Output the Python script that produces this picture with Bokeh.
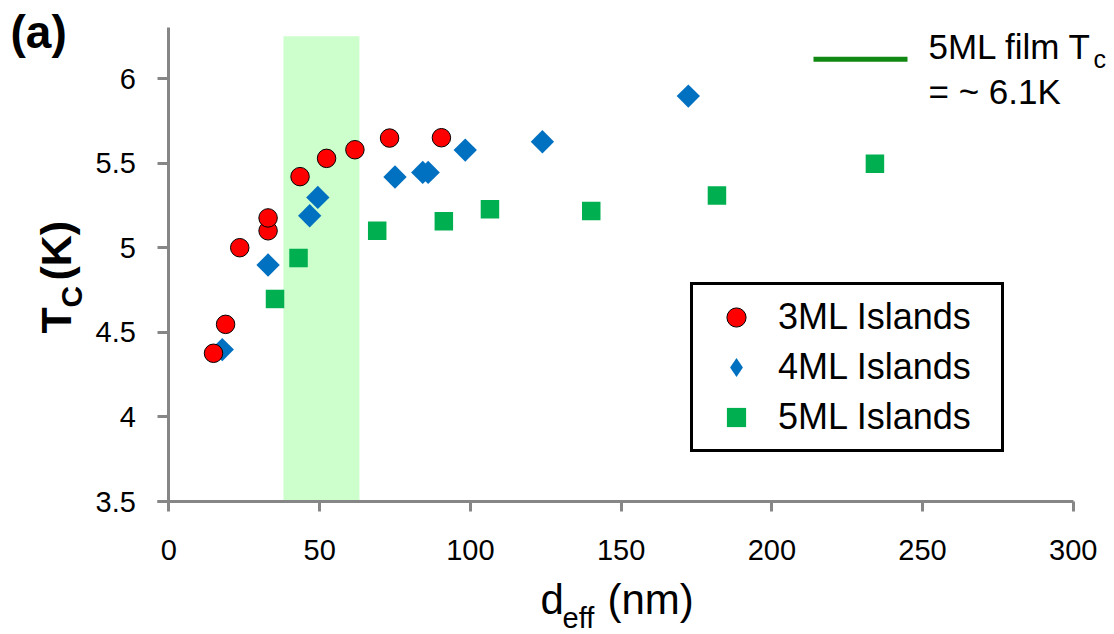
import numpy as np
from bokeh.plotting import figure
from bokeh.models import (Range1d, FixedTicker, Label, Legend, LegendItem, Arrow,
                          LinearAxis)
from bokeh.embed import file_html
from bokeh.resources import INLINE

# ---- data ----
d3 = [14.8, 18.8, 23.5, 32.9, 32.9, 43.5, 52.3, 61.7, 73.2, 90.4]
tc3 = [4.376, 4.547, 5.00, 5.10, 5.176, 5.42, 5.528, 5.579, 5.648, 5.65]

d4 = [17.7, 32.9, 46.7, 49.4, 75.0, 84.2, 86.0, 98.3, 123.9, 172.3]
tc4 = [4.398, 4.898, 5.189, 5.297, 5.418, 5.445, 5.445, 5.577, 5.626, 5.896]

d5 = [35.2, 43.0, 69.1, 91.2, 106.5, 140.1, 181.8, 234.2]
tc5 = [4.697, 4.939, 5.10, 5.156, 5.227, 5.217, 5.309, 5.496]

band_left = [38.0]
band_right = [63.2]
band_bottom = [3.5]
band_top = [6.25]

x_ticks = [0, 50, 100, 150, 200, 250, 300]
y_ticks = [3.5, 4.0, 4.5, 5.0, 5.5, 6.0]
y_tick_labels = ["3.5", "4", "4.5", "5", "5.5", "6"]

series_labels = ["3ML Islands", "4ML Islands", "5ML Islands"]

FONT = "Liberation Sans"
AXIS_GRAY = "#868686"
BLUE = "#0070c0"
W, H = 1114, 634

# the frame fills the whole canvas; the axes sit at fixed data locations
p = figure(width=W, height=H, output_backend="svg", toolbar_location=None,
           x_range=Range1d(-55.86, 313.67), y_range=Range1d(2.714, 6.461),
           x_axis_location=None, y_axis_location=None,
           min_border_left=0, min_border_right=0, min_border_top=0,
           min_border_bottom=0)
p.outline_line_color = None
p.grid.visible = False
p.background_fill_color = "white"
p.border_fill_color = "white"

xaxis = LinearAxis(fixed_location=3.5, bounds=(-3.7, 300),
                   ticker=FixedTicker(ticks=x_ticks))
yaxis = LinearAxis(fixed_location=0, bounds=(3.5, 6.3),
                   ticker=FixedTicker(ticks=y_ticks))
yaxis.major_label_overrides = {t: l for t, l in zip(y_ticks, y_tick_labels)}
for ax in (xaxis, yaxis):
    ax.axis_line_color = AXIS_GRAY
    ax.axis_line_width = 3
    ax.major_tick_line_color = AXIS_GRAY
    ax.major_tick_line_width = 3
    ax.major_tick_in = 0
    ax.minor_tick_line_color = None
    ax.major_label_text_font = FONT
    ax.major_label_text_font_size = "29px"
    ax.major_label_text_color = "#000000"
xaxis.major_tick_out = 10
yaxis.major_tick_out = 11
xaxis.major_label_standoff = 28
yaxis.major_label_standoff = 22
p.add_layout(xaxis, "below")
p.add_layout(yaxis, "left")

# shaded band
p.quad(left=band_left, right=band_right, bottom=band_bottom, top=band_top,
       fill_color="#ccffcc", line_color=None)

# series
r5 = p.scatter(d5, tc5, marker="square", size=18.5,
               fill_color="#00b050", line_color=None)
# legend key for the diamonds (legend glyphs ignore marker angle); it lies
# entirely under the rotated squares drawn on top of it
r4_key = p.scatter(d4, tc4, marker="diamond", size=16.5,
                   fill_color=BLUE, line_color=None)
r4 = p.scatter(d4, tc4, marker="square", angle=np.pi / 4, size=16.5,
               fill_color=BLUE, line_color=None)
r3 = p.scatter(d3, tc3, marker="circle", size=18.5,
               fill_color="#ff0000", line_color="#000000", line_width=1)

legend = Legend(items=[LegendItem(label=series_labels[0], renderers=[r3]),
                       LegendItem(label=series_labels[1], renderers=[r4_key]),
                       LegendItem(label=series_labels[2], renderers=[r5])],
                location=(690, 182), orientation="vertical",
                border_line_color="#000000", border_line_width=3,
                border_line_alpha=1.0,
                background_fill_color="white", background_fill_alpha=1.0,
                padding=8, spacing=2, margin=0,
                glyph_width=70, glyph_height=48, label_height=48,
                label_width=215, label_standoff=7,
                label_text_font=FONT, label_text_font_size="36px",
                label_text_color="#000000")
p.add_layout(legend)

# film Tc annotation (top right)
p.add_layout(Arrow(end=None, x_start=813, y_start=575.3, x_end=907, y_end=575.3,
                   start_units="screen", end_units="screen",
                   line_color="#118811", line_width=5))


def lab(text, x, y, size, bold=False, angle=0.0):
    p.add_layout(Label(x=x, y=y, x_units="screen", y_units="screen", text=text,
                       text_font=FONT, text_font_size=size,
                       text_font_style="bold" if bold else "normal",
                       text_color="#000000", angle=angle,
                       text_align="left", text_baseline="middle"))


lab("5ML film T", 928, 588, "35px")
lab("c", 1093, 576, "25px")
lab("= ~ 6.1K", 928, 543, "35px")

# panel tag
lab("(a)", 10, 603, "46px", bold=True)

# y axis title  T_C (K)
lab("T", 55, 301, "43px", bold=True, angle=np.pi / 2)
lab("C", 71, 327, "30px", bold=True, angle=np.pi / 2)
lab("(K)", 55, 354, "43px", bold=True, angle=np.pi / 2)

# x axis title  d_eff (nm)
lab("d", 540, 35, "42px")
lab("eff", 562, 17, "29px")
lab("(nm)", 607, 35, "42px")

open("out.html", "w").write(file_html(p, INLINE))
